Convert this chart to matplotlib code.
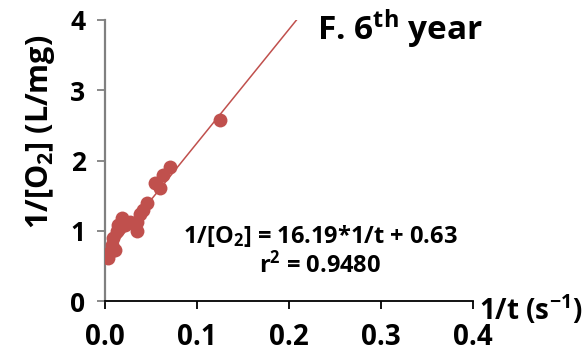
import matplotlib
matplotlib.use("Agg")
import matplotlib.pyplot as plt
import numpy as np

FONT = 'Open Sans'
plt.rcParams['font.family'] = [FONT, 'DejaVu Sans']
plt.rcParams['font.weight'] = 'bold'
plt.rcParams['mathtext.fontset'] = 'custom'
plt.rcParams['mathtext.rm'] = FONT + ':bold'
plt.rcParams['mathtext.bf'] = FONT + ':bold'
plt.rcParams['mathtext.it'] = FONT + ':bold'

# data
inv_t = [0.0036, 0.0054, 0.0073, 0.0090, 0.0109, 0.0127, 0.0145, 0.0180, 0.0217,
         0.0270, 0.0344, 0.0344, 0.0380, 0.0417, 0.0453, 0.0543, 0.0598, 0.0634,
         0.0707, 0.1250]
inv_o2 = [0.61, 0.70, 0.80, 0.89, 0.73, 0.99, 1.08, 1.18, 1.08,
          1.13, 1.13, 0.99, 1.24, 1.30, 1.39, 1.675, 1.61, 1.79,
          1.91, 2.57]
slope = 16.19
intercept = 0.63
r2 = 0.9480
x_ticks = [0.0, 0.1, 0.2, 0.3, 0.4]
x_ticklabels = ['0.0', '0.1', '0.2', '0.3', '0.4']
y_ticks = [0, 1, 2, 3, 4]
title = 'F. 6$^{th}$ year'

red = '#C0504D'
W, H = 587, 354
fig = plt.figure(figsize=(W / 100, H / 100), dpi=100)
ax = fig.add_axes([105 / W, (H - 301) / H, (473 - 105) / W, (301 - 20) / H])

ax.plot(inv_t, inv_o2, 'o', color=red, markersize=10, markeredgewidth=0, zorder=3)
xf = np.array([0.0, (4 - intercept) / slope])
ax.plot(xf, slope * xf + intercept, '-', color=red, lw=1.1, zorder=2)

ax.set_xlim(0, 0.4)
ax.set_ylim(0, 4)
ax.set_xticks(x_ticks)
ax.set_xticklabels(x_ticklabels)
ax.set_yticks(y_ticks)

for s in ['top', 'right']:
    ax.spines[s].set_visible(False)
ax.spines['left'].set_color('#808080')
ax.spines['left'].set_linewidth(1.6)
ax.spines['bottom'].set_color('black')
ax.spines['bottom'].set_linewidth(1.3)
ax.tick_params(axis='y', direction='out', length=6, width=1.3, color='#808080',
               labelsize=19, pad=8)
ax.tick_params(axis='x', direction='out', length=6, width=1.3, color='black',
               labelsize=20, pad=10)
for lab in ax.get_xticklabels() + ax.get_yticklabels():
    lab.set_fontweight('bold')

fig.text(41 / W, 1 - 132 / H, '1/[O$_2$] (L/mg)', rotation=90, ha='center', va='center',
         fontsize=22, fontweight='bold')
fig.text(479 / W, 1 - 310 / H, '1/t (s$^{-1}$)', ha='left', va='center',
         fontsize=20, fontweight='bold')
fig.text(400 / W, 1 - 29 / H, title, ha='center', va='center',
         fontsize=24, fontweight='bold')
fig.text(320 / W, 1 - 236 / H, '1/[O$_2$] = %.2f*1/t + %.2f' % (slope, intercept),
         ha='center', va='center', fontsize=17, fontweight='bold')
fig.text(320 / W, 1 - 265 / H, 'r$^2$ = %.4f' % r2,
         ha='center', va='center', fontsize=17, fontweight='bold')

fig.savefig('out.png', dpi=100)
